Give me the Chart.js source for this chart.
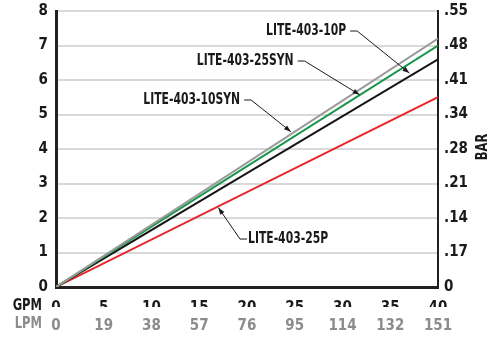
<!DOCTYPE html>
<html>
<head>
<meta charset="utf-8">
<script src="https://cdn.jsdelivr.net/npm/chart.js@4"></script>
<style>
  html, body { margin: 0; padding: 0; background: #fff; }
  #wrap { width: 492px; height: 337px; }
</style>
</head>
<body>
<div id="wrap"><canvas id="c"></canvas></div>
<script>
// chart data
const gpmTicks = [0, 5, 10, 15, 20, 25, 30, 35, 40];
const lpmLabels = ["0", "19", "38", "57", "76", "95", "114", "132", "151"];
const barLabels = ["0", ".17", ".14", ".21", ".28", ".34", ".41", ".48", ".55"];
const flowGpm = [0, 40];
const series = ["LITE-403-10P", "LITE-403-25SYN", "LITE-403-10SYN", "LITE-403-25P"];
const psi10P = [0, 7.2];
const psi25SYN = [0, 7.0];
const psi10SYN = [0, 6.6];
const psi25P = [0, 5.5];
const colors = ["#9a9a9a", "#17964a", "#141414", "#e6262c"];

// callout labels: where the text sits (data units) and what the arrow points at
const callouts = [
  { text: series[0], at: [30.8, 7.42], side: "left", target: [37.0, 6.2] },
  { text: series[1], at: [25.3, 6.55], side: "left", target: [31.8, 5.57] },
  { text: series[2], at: [19.7, 5.42], side: "left", target: [24.6, 4.5] },
  { text: series[3], at: [20.0, 1.39], side: "right", target: [17.0, 2.3] }
];

const FONT = "'DejaVu Sans Condensed', 'Liberation Sans', Arial, sans-serif";
const SQUEEZE = 0.8; // fake a narrower face for drawn text

const toPoints = (ys) => flowGpm.map((x, i) => ({ x: x, y: ys[i] }));

// text drawn narrower, anchored at (x, y)
const narrowText = (ctx, text, x, y, align) => {
  ctx.save();
  ctx.translate(x, y);
  ctx.scale(SQUEEZE, 1);
  ctx.textAlign = align;
  ctx.fillText(text, 0, 0);
  ctx.restore();
};

// draws callouts, GPM/LPM row titles and the BAR title
const extrasPlugin = {
  id: "extras",
  afterDatasetsDraw(chart) {
    const ctx = chart.ctx;
    const xs = chart.scales.x;
    const ys = chart.scales.y;
    ctx.save();
    ctx.font = "bold 15px " + FONT;
    ctx.textBaseline = "middle";
    ctx.fillStyle = "#1a1a1a";
    ctx.strokeStyle = "#1a1a1a";
    ctx.lineWidth = 1;
    callouts.forEach((c) => {
      const px = xs.getPixelForValue(c.at[0]);
      const py = ys.getPixelForValue(c.at[1]);
      const tx = xs.getPixelForValue(c.target[0]);
      const ty = ys.getPixelForValue(c.target[1]);
      const dir = c.side === "left" ? 1 : -1;
      const elbow = px + dir * 7;
      ctx.beginPath();
      ctx.moveTo(px, py);
      ctx.lineTo(elbow, py);
      ctx.lineTo(tx, ty);
      ctx.stroke();
      // arrow head
      const ang = Math.atan2(ty - py, tx - elbow);
      const len = 7, w = 2.5;
      ctx.beginPath();
      ctx.moveTo(tx, ty);
      ctx.lineTo(tx - len * Math.cos(ang) + w * Math.sin(ang), ty - len * Math.sin(ang) - w * Math.cos(ang));
      ctx.lineTo(tx - len * Math.cos(ang) - w * Math.sin(ang), ty - len * Math.sin(ang) + w * Math.cos(ang));
      ctx.closePath();
      ctx.fill();
      if (c.side === "left") {
        narrowText(ctx, c.text, px - 4, py, "right");
      } else {
        narrowText(ctx, c.text, px + 1, py, "left");
      }
    });
    ctx.restore();
  },
  afterDraw(chart) {
    const ctx = chart.ctx;
    ctx.save();
    ctx.font = "bold 16px " + FONT;
    ctx.textBaseline = "middle";
    ctx.fillStyle = "#1a1a1a";
    narrowText(ctx, "GPM", 42, 306, "right");
    ctx.fillStyle = "#8c8c8c";
    narrowText(ctx, "LPM", 42, 324, "right");
    ctx.translate(483, 147);
    ctx.rotate(-Math.PI / 2);
    ctx.fillStyle = "#1a1a1a";
    narrowText(ctx, "BAR", 0, 0, "center");
    ctx.restore();
  }
};

const datasets = [psi10P, psi25SYN, psi10SYN, psi25P].map((d, i) => ({
  label: series[i],
  data: toPoints(d),
  borderColor: colors[i],
  borderWidth: 2,
  pointRadius: 0,
  fill: false
}));

const tickFont = { family: FONT, size: 15, weight: "bold" };

// let the top/bottom tick labels overhang instead of shrinking the plot
const noVerticalPadding = (s) => { s.paddingTop = 0; s.paddingBottom = 0; };

new Chart(document.getElementById("c"), {
  type: "line",
  data: { datasets: datasets },
  options: {
    responsive: true,
    maintainAspectRatio: false,
    animation: false,
    layout: { padding: { top: 11, left: 0, right: 0, bottom: 0 } },
    plugins: { legend: { display: false }, tooltip: { enabled: false } },
    scales: {
      x: {
        type: "linear",
        position: "bottom",
        min: 0, max: 40,
        afterBuildTicks: (s) => { s.ticks = gpmTicks.map((v) => ({ value: v })); },
        afterFit: (s) => { s.height = 20; },
        grid: { display: false, drawTicks: false },
        border: { color: "#231f20", width: 3 },
        ticks: { font: tickFont, color: "#1a1a1a", padding: 12, maxRotation: 0 }
      },
      x2: {
        type: "linear",
        position: "bottom",
        min: 0, max: 40,
        afterBuildTicks: (s) => { s.ticks = gpmTicks.map((v) => ({ value: v })); },
        afterFit: (s) => { s.height = 30; },
        grid: { display: false, drawTicks: false },
        border: { display: false },
        ticks: {
          font: tickFont, color: "#8c8c8c", padding: 10, maxRotation: 0,
          callback: (v, i) => lpmLabels[i]
        }
      },
      y: {
        position: "left",
        min: 0, max: 8,
        afterFit: (s) => { s.width = 56; noVerticalPadding(s); },
        grid: { color: "#d9d9d9", lineWidth: 2, drawTicks: false },
        border: { color: "#231f20", width: 3 },
        ticks: { stepSize: 1, font: tickFont, color: "#1a1a1a", padding: 8 }
      },
      y2: {
        position: "right",
        min: 0, max: 8,
        afterFit: (s) => { s.width = 54; noVerticalPadding(s); },
        grid: { display: false, drawTicks: false },
        border: { color: "#231f20", width: 2 },
        ticks: {
          stepSize: 1, font: tickFont, color: "#1a1a1a", padding: 6,
          callback: (v, i) => barLabels[i]
        }
      }
    }
  },
  plugins: [extrasPlugin]
});
</script>
</body>
</html>
